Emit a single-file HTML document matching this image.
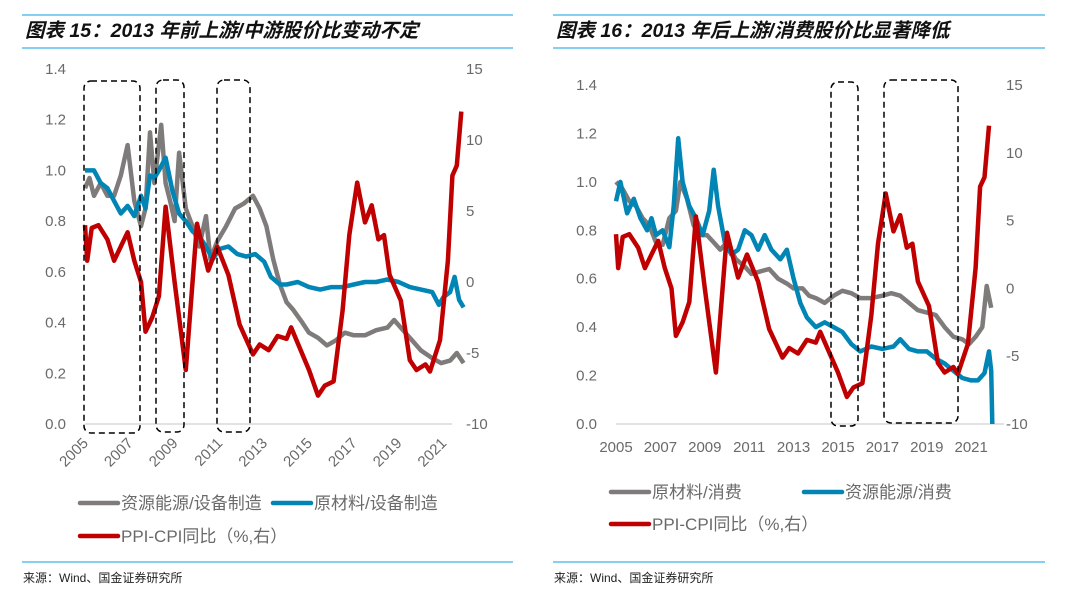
<!DOCTYPE html>
<html><head><meta charset="utf-8"><style>
body{margin:0;background:#fff;width:1080px;height:598px;overflow:hidden;font-family:"Liberation Sans","Noto Sans CJK SC",sans-serif}
svg{display:block}
</style></head><body>
<svg id="s" width="1080" height="598">
<g>
<line x1="22" y1="15" x2="513" y2="15" stroke="#5bc0eb" stroke-width="1.5"/>
<line x1="22" y1="48" x2="513" y2="48" stroke="#5bc0eb" stroke-width="1.5"/>
<line x1="22" y1="562" x2="513" y2="562" stroke="#5bc0eb" stroke-width="1.5"/>
<text x="25" y="37" font-size="19.5" font-weight="bold" font-style="italic" fill="#111">图表 15：2013 年前上游/中游股价比变动不定</text>
<text x="23" y="582" font-size="12" fill="#222">来源：Wind、国金证券研究所</text>
</g>
<g>
<line x1="553" y1="15" x2="1045" y2="15" stroke="#5bc0eb" stroke-width="1.5"/>
<line x1="553" y1="48" x2="1045" y2="48" stroke="#5bc0eb" stroke-width="1.5"/>
<line x1="553" y1="562" x2="1045" y2="562" stroke="#5bc0eb" stroke-width="1.5"/>
<text x="556" y="37" font-size="19.5" font-weight="bold" font-style="italic" fill="#111">图表 16：2013 年后上游/消费股价比显著降低</text>
<text x="554" y="582" font-size="12" fill="#222">来源：Wind、国金证券研究所</text>
</g>
</svg>
<script>
// PPI-CPI (right axis), shared
const redT=[2005.0,2005.1,2005.3,2005.6,2006.0,2006.3,2006.6,2006.9,2007.2,2007.5,2007.7,2008.0,2008.3,2008.6,2009.0,2009.5,2010.0,2010.5,2010.9,2011.4,2011.9,2012.5,2012.8,2013.2,2013.6,2014.0,2014.2,2015.0,2015.4,2015.7,2016.1,2016.5,2016.8,2017.15,2017.5,2017.8,2018.1,2018.35,2018.6,2019.1,2019.5,2019.8,2020.2,2020.4,2020.85,2021.2,2021.4,2021.6,2021.8];
const redV=[4,1.5,3.8,4,3,1.5,2.5,3.5,1.5,0,-3.5,-2.5,-1,5.3,0,-6.2,4.1,0.8,2.5,0.5,-3,-5.1,-4.4,-4.8,-3.8,-4,-3.2,-6.2,-8,-7.3,-7,-2,3.3,7,4.2,5.4,3,3.3,0.5,-1.3,-5.5,-6.2,-5.8,-6.3,-4.1,1.5,7.5,8.2,12];
// Left chart
const lGrayT=[2005,2005.2,2005.4,2005.7,2006,2006.3,2006.6,2006.9,2007.2,2007.5,2007.7,2007.9,2008.1,2008.4,2008.6,2008.8,2009,2009.2,2009.5,2009.8,2010.1,2010.4,2010.6,2010.9,2011.3,2011.7,2012.1,2012.5,2012.8,2013.1,2013.4,2013.7,2014,2014.3,2014.7,2015,2015.4,2015.8,2016.2,2016.6,2017,2017.5,2018,2018.5,2018.8,2019.2,2019.6,2020,2020.5,2020.9,2021.3,2021.6,2021.9];
const lGrayV=[0.93,0.97,0.9,0.95,0.9,0.9,0.98,1.1,0.88,0.78,0.85,1.15,0.95,1.18,0.95,0.88,0.8,1.07,0.85,0.78,0.7,0.82,0.65,0.72,0.78,0.85,0.87,0.9,0.85,0.78,0.65,0.55,0.48,0.45,0.4,0.36,0.34,0.31,0.33,0.36,0.35,0.35,0.37,0.38,0.41,0.37,0.33,0.29,0.26,0.24,0.25,0.28,0.24];
const lBlueT=[2005,2005.4,2005.7,2006,2006.3,2006.6,2006.9,2007.2,2007.5,2007.7,2007.9,2008.1,2008.3,2008.6,2008.9,2009.2,2009.5,2009.8,2010.1,2010.4,2010.7,2011,2011.4,2011.8,2012.2,2012.6,2013,2013.3,2013.7,2014,2014.5,2015,2015.5,2016,2016.5,2017,2017.5,2018,2018.5,2019,2019.5,2020,2020.5,2020.8,2021,2021.3,2021.5,2021.7,2021.9];
const lBlueV=[1.0,1.0,0.95,0.93,0.88,0.83,0.86,0.82,0.9,0.85,0.98,0.97,1.0,1.05,0.92,0.83,0.8,0.76,0.74,0.7,0.65,0.69,0.7,0.67,0.66,0.67,0.64,0.58,0.55,0.55,0.56,0.54,0.53,0.54,0.54,0.55,0.56,0.56,0.57,0.56,0.54,0.53,0.52,0.47,0.5,0.52,0.58,0.49,0.46];
// Right chart
const rGrayT=[2005,2005.3,2005.6,2005.9,2006.2,2006.5,2006.8,2007.1,2007.4,2007.7,2007.9,2008.2,2008.5,2008.8,2009.1,2009.4,2009.7,2010,2010.4,2010.8,2011.1,2011.5,2011.9,2012.3,2012.7,2013,2013.4,2013.7,2014,2014.4,2014.8,2015.2,2015.6,2016,2016.5,2017,2017.4,2017.8,2018.2,2018.6,2019,2019.4,2019.8,2020.2,2020.6,2020.9,2021.2,2021.5,2021.7,2021.9];
const rGrayV=[1.0,0.97,0.92,0.9,0.85,0.82,0.75,0.74,0.85,0.88,1.0,0.93,0.82,0.78,0.78,0.75,0.72,0.75,0.68,0.65,0.62,0.63,0.64,0.6,0.58,0.56,0.56,0.53,0.52,0.5,0.53,0.55,0.54,0.52,0.52,0.53,0.54,0.53,0.5,0.47,0.46,0.45,0.4,0.36,0.35,0.33,0.36,0.4,0.57,0.48];
const rBlueT=[2005,2005.2,2005.5,2005.8,2006.1,2006.4,2006.6,2006.8,2007.1,2007.4,2007.6,2007.8,2008,2008.3,2008.6,2008.9,2009.2,2009.4,2009.6,2009.9,2010.2,2010.5,2010.8,2011.1,2011.4,2011.7,2012,2012.4,2012.7,2013,2013.3,2013.6,2014,2014.4,2014.8,2015.2,2015.6,2016,2016.5,2017,2017.5,2017.8,2018.2,2018.6,2019,2019.4,2019.8,2020.2,2020.6,2021,2021.3,2021.6,2021.8,2021.9,2021.95];
const rBlueV=[0.92,1.0,0.87,0.93,0.85,0.8,0.85,0.78,0.8,0.73,0.9,1.18,1.0,0.9,0.85,0.78,0.88,1.05,0.9,0.75,0.7,0.72,0.8,0.78,0.72,0.78,0.72,0.68,0.72,0.6,0.5,0.44,0.4,0.42,0.4,0.38,0.33,0.3,0.32,0.31,0.32,0.35,0.31,0.3,0.3,0.27,0.25,0.22,0.19,0.18,0.18,0.21,0.3,0.22,0.0];
const leftTicks=["0.0","0.2","0.4","0.6","0.8","1.0","1.2","1.4"];
const rightTicks=["-10","-5","0","5","10","15"];
const yearLabels=["2005","2007","2009","2011","2013","2015","2017","2019","2021"];

const NS="http://www.w3.org/2000/svg";
const svg=document.getElementById('s');
function mk(tag,attrs,parent){const e=document.createElementNS(NS,tag);for(const k in attrs)e.setAttribute(k,attrs[k]);(parent||svg).appendChild(e);return e;}

function panel(cfg,prefix){
  const g=mk('g',{});
  
  
  const X=t=>cfg.x0+(t-2005)*cfg.xs;
  const YL=v=>cfg.yb-(v/1.4)*(cfg.yb-cfg.yt);
  const YR=v=>cfg.yb-((v+10)/25)*(cfg.yb-cfg.yt);
  const base=mk('line',{x1:cfg.x0,y1:cfg.yb,x2:cfg.xe,y2:cfg.yb,stroke:'#d9d9d9','stroke-width':1.5},g);
  
  
  leftTicks.forEach(s=>{const t=mk('text',{x:cfg.lx,y:YL(+s)+5,'font-size':15,fill:'#6a6a6a','text-anchor':'end'},g);t.textContent=s;
    
    });
  rightTicks.forEach(s=>{const t=mk('text',{x:cfg.rx,y:YR(+s)+5,'font-size':15,fill:'#6a6a6a'},g);t.textContent=s;
    
    });
  yearLabels.forEach(s=>{const x=X(+s);let t;
    if(cfg.rot){t=mk('text',{x:x+4,y:cfg.yb+20,'font-size':15,fill:'#6a6a6a','text-anchor':'end',transform:`rotate(-45 ${x+4} ${cfg.yb+20})`},g);}
    else{t=mk('text',{x:x,y:cfg.yb+28,'font-size':15,fill:'#6a6a6a','text-anchor':'middle'},g);}
    t.textContent=s;
    
    });
  function line(T,V,Y,color,name){
    const p=mk('polyline',{points:T.map((t,i)=>X(t).toFixed(1)+','+Y(V[i]).toFixed(1)).join(' '),fill:'none',stroke:color,'stroke-width':4.5,'stroke-linejoin':'round'},g);
    
    
  }
  line(cfg.s1T,cfg.s1V,YL,cfg.c1,prefix+'-series-1');
  line(cfg.s2T,cfg.s2V,YL,cfg.c2,prefix+'-series-2');
  line(redT,redV,YR,'#c00000',prefix+'-ppi-cpi-line');
  cfg.boxes.forEach(b=>{const r=mk('rect',{x:b[0],y:b[1],width:b[2]-b[0],height:b[3]-b[1],rx:7,fill:'none',stroke:'#000','stroke-width':1.5,'stroke-dasharray':'6,4'},g);
    
    });
  cfg.legend.forEach(L=>{
    const lg=mk('g',{},g);
    
    
    mk('line',{x1:L[0],y1:L[1],x2:L[0]+38,y2:L[1],stroke:L[2],'stroke-width':4.5,'stroke-linecap':'round'},lg);
    const t=mk('text',{x:L[0]+41,y:L[1]+6,'font-size':17,fill:'#6a6a6a'},lg);t.textContent=L[3];
  });
}
panel({x0:85,xe:452,xs:22.4,yt:69,yb:424,lx:66,rx:466,rot:true,
  s1T:lGrayT,s1V:lGrayV,s2T:lBlueT,s2V:lBlueV,c1:'#7f7b7b',c2:'#0085b5',
  boxes:[[84,81,140,433],[156,80,184,432],[217,80,250,432]],
  legend:[[80,503,'#7f7b7b','资源能源/设备制造'],[273,503,'#0085b5','原材料/设备制造'],[80,536,'#c00000','PPI-CPI同比（%,右）']]},'left');
panel({x0:616,xe:1004,xs:22.2,yt:85,yb:424,lx:597,rx:1006,rot:false,
  s1T:rGrayT,s1V:rGrayV,s2T:rBlueT,s2V:rBlueV,c1:'#7f7b7b',c2:'#0085b5',
  boxes:[[831,82,858,426],[884,80,958,423]],
  legend:[[611,492,'#7f7b7b','原材料/消费'],[804,492,'#0085b5','资源能源/消费'],[611,524,'#c00000','PPI-CPI同比（%,右）']]},'right');
</script>
</body></html>
